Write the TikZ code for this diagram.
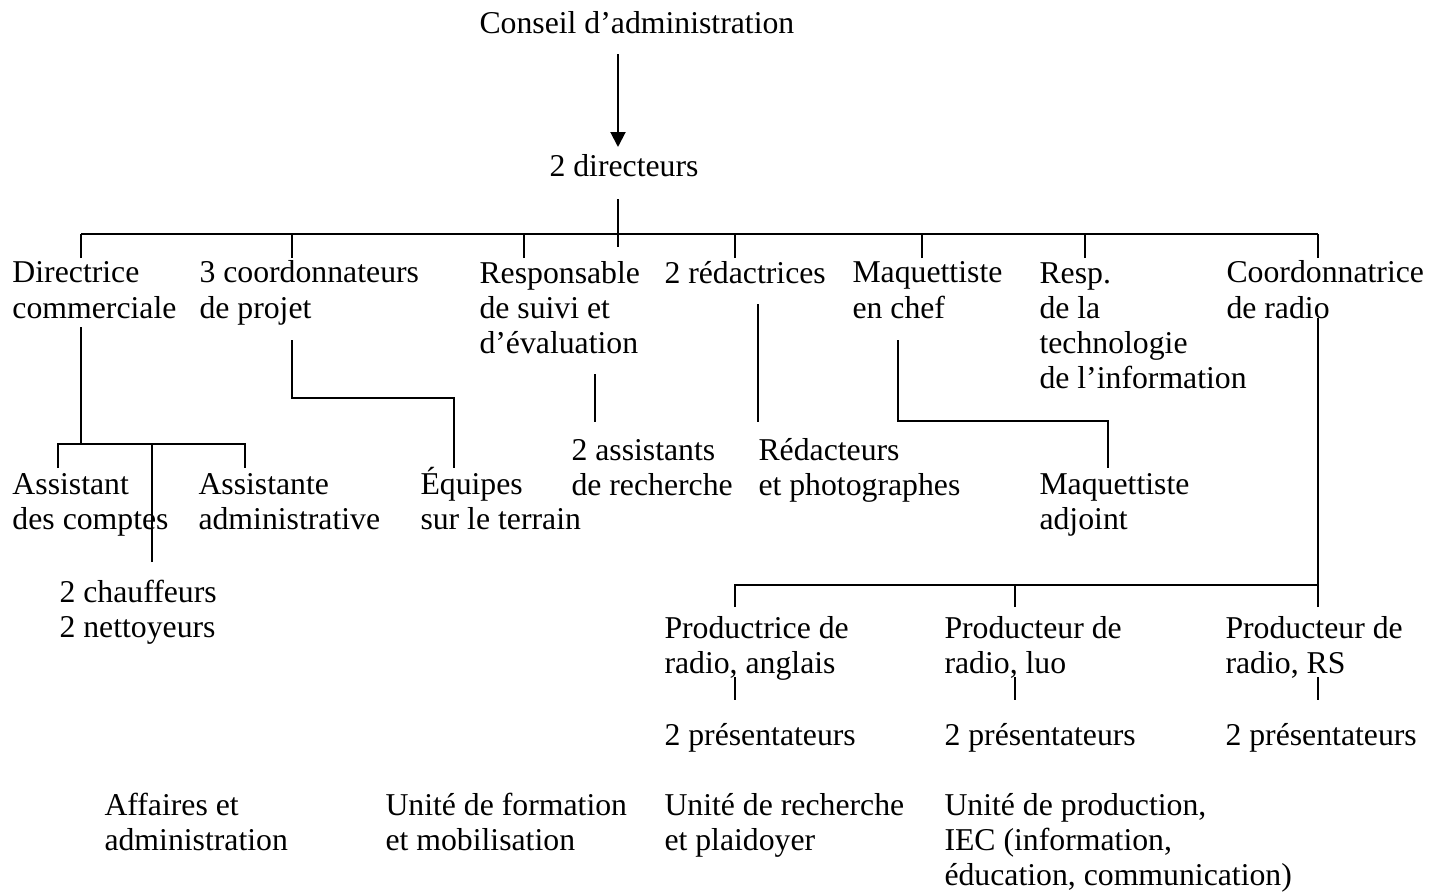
\documentclass[tikz,border=0pt]{standalone}
\usepackage{fontspec}
\setmainfont{Liberation Serif}
\usetikzlibrary{arrows.meta}

\tikzset{
  lbl/.style={anchor=base west, inner sep=0pt, align=left,
    font=\fontsize{12.7}{14}\selectfont},
  link/.style={line width=0.8pt},
}

\begin{document}
\begin{tikzpicture}[x=0.4pt, y=-0.4pt]
        \useasboundingbox (0,0) rectangle (1436,893);

        % Top of the chart (nodes sit on the baseline of their last line)
        \node[lbl] (ca) at (479,34) {Conseil d’administration};
        \node[lbl] (dirs) at (549,176) {2 directeurs};

        % First row
        \node[lbl] (dc) at (12,318) {Directrice\\commerciale};
        \node[lbl] (cp) at (199,318) {3 coordonnateurs\\de projet};
        \node[lbl] (rse) at (479,353) {Responsable\\de suivi et\\d’évaluation};
        \node[lbl] (red) at (664,283) {2 rédactrices};
        \node[lbl] (mc) at (852,318) {Maquettiste\\en chef};
        \node[lbl] (rti) at (1039,388) {Resp.\\de la\\technologie\\de l’information};
        \node[lbl] (cr) at (1226,318) {Coordonnatrice\\de radio};

        % Second row
        \node[lbl] (ac) at (12,529) {Assistant\\des comptes};
        \node[lbl] (aa) at (198,529) {Assistante\\administrative};
        \node[lbl] (ch) at (59,637) {2 chauffeurs\\2 nettoyeurs};
        \node[lbl] (eq) at (420,529) {Équipes\\sur le terrain};
        \node[lbl] (ar) at (571,495) {2 assistants\\de recherche};
        \node[lbl] (rp) at (758,495) {Rédacteurs\\et photographes};
        \node[lbl] (ma) at (1039,529) {Maquettiste\\adjoint};

        % Radio producers
        \node[lbl] (pra) at (664,673) {Productrice de\\radio, anglais};
        \node[lbl] (prl) at (944,673) {Producteur de\\radio, luo};
        \node[lbl] (prs) at (1225,673) {Producteur de\\radio, RS};
        \node[lbl] (pta) at (664,745) {2 présentateurs};
        \node[lbl] (ptl) at (944,745) {2 présentateurs};
        \node[lbl] (pts) at (1225,745) {2 présentateurs};

        % Units
        \node[lbl] (uaa) at (104,850) {Affaires et\\administration};
        \node[lbl] (ufm) at (385,850) {Unité de formation\\et mobilisation};
        \node[lbl] (urp) at (664,850) {Unité de recherche\\et plaidoyer};
        \node[lbl] (upr) at (944,885) {Unité de production,\\IEC (information,\\éducation, communication)};

        % Line ends
        \coordinate (ca-out) at (618,54);
        \coordinate (dirs-in) at (618,147);
        \coordinate (dirs-out) at (618,199);
        \coordinate (dirs-bar) at (618,247);
        \coordinate (barL) at (81,234);
        \coordinate (barR) at (1318,234);
        \coordinate (dc-in) at (81,258);
        \coordinate (cp-in) at (292,258);
        \coordinate (rse-in) at (524,258);
        \coordinate (red-in) at (735,258);
        \coordinate (mc-in) at (922,258);
        \coordinate (rti-in) at (1085,258);
        \coordinate (cr-in) at (1318,258);

        \coordinate (dc-out) at (81,327);
        \coordinate (dc-bar) at (81,444);
        \coordinate (ac-in) at (58,468);
        \coordinate (aa-in) at (245,468);
        \coordinate (ch-in) at (152,562);
        \coordinate (cp-out) at (292,340);
        \coordinate (eq-in) at (454,468);
        \coordinate (eq-bar) at (292,398);
        \coordinate (rse-out) at (595,374);
        \coordinate (ar-in) at (595,422);
        \coordinate (red-out) at (758,304);
        \coordinate (rp-in) at (758,422);
        \coordinate (mc-out) at (898,340);
        \coordinate (ma-in) at (1108,468);
        \coordinate (ma-bar) at (898,421);

        \coordinate (cr-out) at (1318,318);
        \coordinate (pr-bar) at (1318,585);
        \coordinate (pra-in) at (735,607);
        \coordinate (prl-in) at (1015,607);
        \coordinate (prs-in) at (1318,607);
        \coordinate (pra-out) at (735,677);
        \coordinate (prl-out) at (1015,677);
        \coordinate (prs-out) at (1318,677);
        \coordinate (pta-in) at (735,700);
        \coordinate (ptl-in) at (1015,700);
        \coordinate (pts-in) at (1318,700);

        % Connectors
        \draw[link, -{Triangle[length=6pt, width=6pt]}] (ca-out) -- (dirs-in);
        \draw[link] (dirs-out) -- (dirs-bar);
        \draw[link] (barL) -- (barR);
        \foreach \n in {dc-in, cp-in, rse-in, red-in, mc-in, rti-in, cr-in}
            \draw[link] (\n) -- (\n |- barL);

        \draw[link] (dc-out) -- (dc-bar);
        \draw[link] (ac-in) |- (dc-bar) -| (aa-in);
        \draw[link] (ch-in) -- (ch-in |- dc-bar);
        \draw[link] (cp-out) |- (eq-bar) -| (eq-in);
        \draw[link] (rse-out) -- (ar-in);
        \draw[link] (red-out) -- (rp-in);
        \draw[link] (mc-out) |- (ma-bar) -| (ma-in);

        \draw[link] (cr-out) -- (pr-bar);
        \draw[link] (pra-in) |- (pr-bar);
        \foreach \n in {prl-in, prs-in}
            \draw[link] (\n) -- (\n |- pr-bar);
        \draw[link] (pra-out) -- (pta-in);
        \draw[link] (prl-out) -- (ptl-in);
        \draw[link] (prs-out) -- (pts-in);
    \end{tikzpicture}
\end{document}
